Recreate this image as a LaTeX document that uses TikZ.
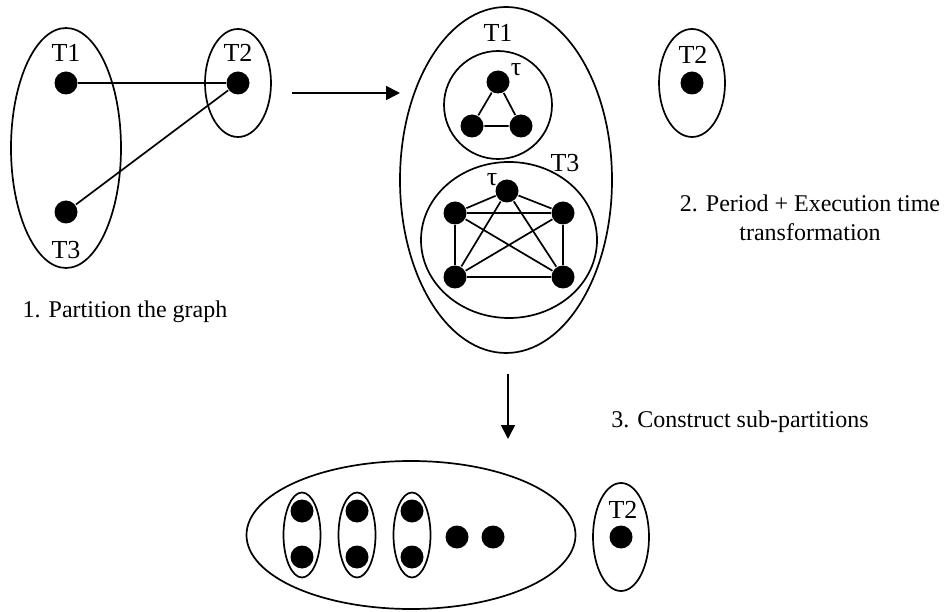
\documentclass[tikz,border=0pt]{standalone}
\usepackage{fontspec}
\setmainfont{Liberation Serif}
\usetikzlibrary{shapes.geometric,arrows.meta}

\begin{document}
\begin{tikzpicture}[x=1pt, y=-1pt, line width=1.7pt,
      vertex/.style = {circle, fill, inner sep=0pt, minimum size=23pt},
      part/.style = {ellipse, draw, inner sep=0pt},
      tag/.style = {inner sep=0pt, font=\fontsize{26}{30}\selectfont},
      note/.style = {inner sep=0pt, align=center, font=\fontsize{24}{29}\selectfont},
      flow/.style = {-{Triangle[length=14pt,width=14pt]}}]
  \useasboundingbox (0,0) rectangle (945,612);

  % partitioned task graph
  \node[part, minimum width=110pt, minimum height=240pt] (P13) at (66,148) {};
  \node[part, minimum width=66pt, minimum height=108pt] (P2) at (238,83) {};
  \node[vertex] (a1) at (66,83) {};
  \node[vertex] (a2) at (238,83) {};
  \node[vertex] (a3) at (66,212) {};
  \node[tag] (ta1) at (66,53) {T1};
  \node[tag] (ta2) at (238,53) {T2};
  \node[tag] (ta3) at (66,250) {T3};
  \draw (a1) -- (a2);
  \draw (a3) -- (a2);
  \node[note, anchor=base] (n1) at (125,317) {1. Partition the graph};

  \coordinate (f1s) at (292,93);
  \coordinate (f1e) at (400,93);
  \draw[flow] (f1s) -- (f1e);

  % transformed tasks
  \node[part, minimum width=212pt, minimum height=346pt] (Q) at (506,180) {};
  \node[tag] (tq1) at (498,33) {T1};
  \node[circle, draw, inner sep=0pt, minimum size=108pt] (C1) at (498,105) {};
  \node[vertex] (b1) at (498,82) {};
  \node[vertex] (b2) at (472,126) {};
  \node[vertex] (b3) at (521,126) {};
  \node[tag] (tb) at (516,70) {τ};
  \draw (b1) -- (b2) -- (b3) -- (b1);

  \node[tag] (tq3) at (565,163) {T3};
  \node[part, minimum width=176pt, minimum height=156pt] (C3) at (509,240) {};
  \node[vertex] (c1) at (507,191) {};
  \node[vertex] (c2) at (455,213) {};
  \node[vertex] (c3) at (563,213) {};
  \node[vertex] (c4) at (455,277) {};
  \node[vertex] (c5) at (563,277) {};
  \node[tag] (tc) at (492,180) {τ};
  \foreach \u/\v in {c1/c2,c1/c3,c1/c4,c1/c5,c2/c3,c2/c4,c2/c5,c3/c4,c3/c5,c4/c5}
    \draw (\u) -- (\v);

  \node[part, minimum width=66pt, minimum height=108pt] (R2) at (692,83) {};
  \node[vertex] (r2) at (692,83) {};
  \node[tag] (tr2) at (693,55) {T2};
  \node[note] (n2) at (810,218) {2. Period + Execution time\\transformation};

  \coordinate (f2s) at (508,374);
  \coordinate (f2e) at (508,439);
  \draw[flow] (f2s) -- (f2e);
  \node[note] (n3) at (740,422) {3. Construct sub-partitions};

  % sub-partitions
  \node[part, minimum width=329pt, minimum height=148pt] (B) at (411,535) {};
  \foreach \x/\n in {302/1,357/2,412/3} {
    \node[part, minimum width=37pt, minimum height=85pt] (s\n) at (\x,535) {};
    \node[vertex] (s\n a) at (\x,511) {};
    \node[vertex] (s\n b) at (\x,557) {};
  }
  \node[vertex] (d1) at (457,537) {};
  \node[vertex] (d2) at (493,537) {};
  \node[part, minimum width=56pt, minimum height=108pt] (B2) at (621,537) {};
  \node[vertex] (e2) at (621,537) {};
  \node[tag] (te2) at (623,510) {T2};
\end{tikzpicture}
\end{document}
